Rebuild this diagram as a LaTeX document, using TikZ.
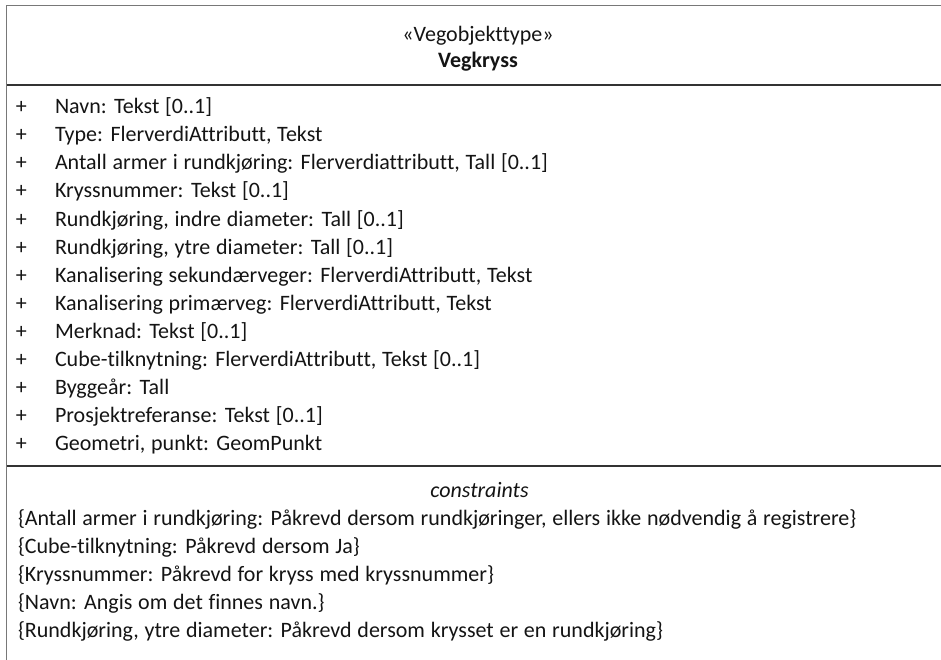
\documentclass[tikz,border=0pt]{standalone}
\usepackage{fontspec}
\setmainfont{Carlito}[Ligatures=NoCommon, WordSpace=1.16]
\definecolor{txt}{RGB}{20,20,20}
\definecolor{topline}{RGB}{120,120,120}
\definecolor{divline}{RGB}{50,50,50}
\begin{document}
\begin{tikzpicture}[x=1pt,y=-1pt,
  lbl/.style={inner sep=0pt, outer sep=0pt, font=\fontsize{22}{26}\selectfont, text=txt},
  attr/.style={lbl, anchor=base west},
  ctr/.style={lbl, anchor=base}]
\useasboundingbox (0,0) rectangle (941,660);
% borders
\draw[topline, line width=1.6pt] (6.5,5.5) -- (941,5.5);
\draw[topline, line width=1.6pt] (6.5,5.5) -- (6.5,660);
\draw[divline, line width=1.2pt] (6.5,85) -- (941,85);
\draw[divline, line width=1.2pt] (6.5,466) -- (941,466);
% header
\node[ctr] (stereo) at (478,41.7) {«Vegobjekttype»};
\node[ctr, font=\fontsize{22}{26}\selectfont\bfseries] (name) at (478,68) {Vegkryss};
% attributes
\foreach \t [count=\i from 0] in {
  {Navn: Tekst [0..1]},
  {Type: FlerverdiAttributt, Tekst},
  {Antall armer i rundkjøring: Flerverdiattributt, Tall [0..1]},
  {Kryssnummer: Tekst [0..1]},
  {Rundkjøring, indre diameter: Tall [0..1]},
  {Rundkjøring, ytre diameter: Tall [0..1]},
  {Kanalisering sekundærveger: FlerverdiAttributt, Tekst},
  {Kanalisering primærveg: FlerverdiAttributt, Tekst},
  {Merknad: Tekst [0..1]},
  {Cube-tilknytning: FlerverdiAttributt, Tekst [0..1]},
  {Byggeår: Tall},
  {Prosjektreferanse: Tekst [0..1]},
  {Geometri, punkt: GeomPunkt}} {
  \node[attr] (plus\i) at (16,114+28*\i) {+};
  \node[attr] (attr\i) at (55,114+28*\i) {\t};
}
% constraints
\node[ctr, font=\fontsize{22}{26}\selectfont\itshape] (cons) at (479.5,497) {constraints};
\foreach \t [count=\i from 0] in {
  {\{Antall armer i rundkjøring: Påkrevd dersom rundkjøringer, ellers ikke nødvendig å registrere\}},
  {\{Cube-tilknytning: Påkrevd dersom Ja\}},
  {\{Kryssnummer: Påkrevd for kryss med kryssnummer\}},
  {\{Navn: Angis om det finnes navn.\}},
  {\{Rundkjøring, ytre diameter: Påkrevd dersom krysset er en rundkjøring\}}} {
  \node[attr] (c\i) at (18,525+28*\i) {\t};
}
\end{tikzpicture}
\end{document}
